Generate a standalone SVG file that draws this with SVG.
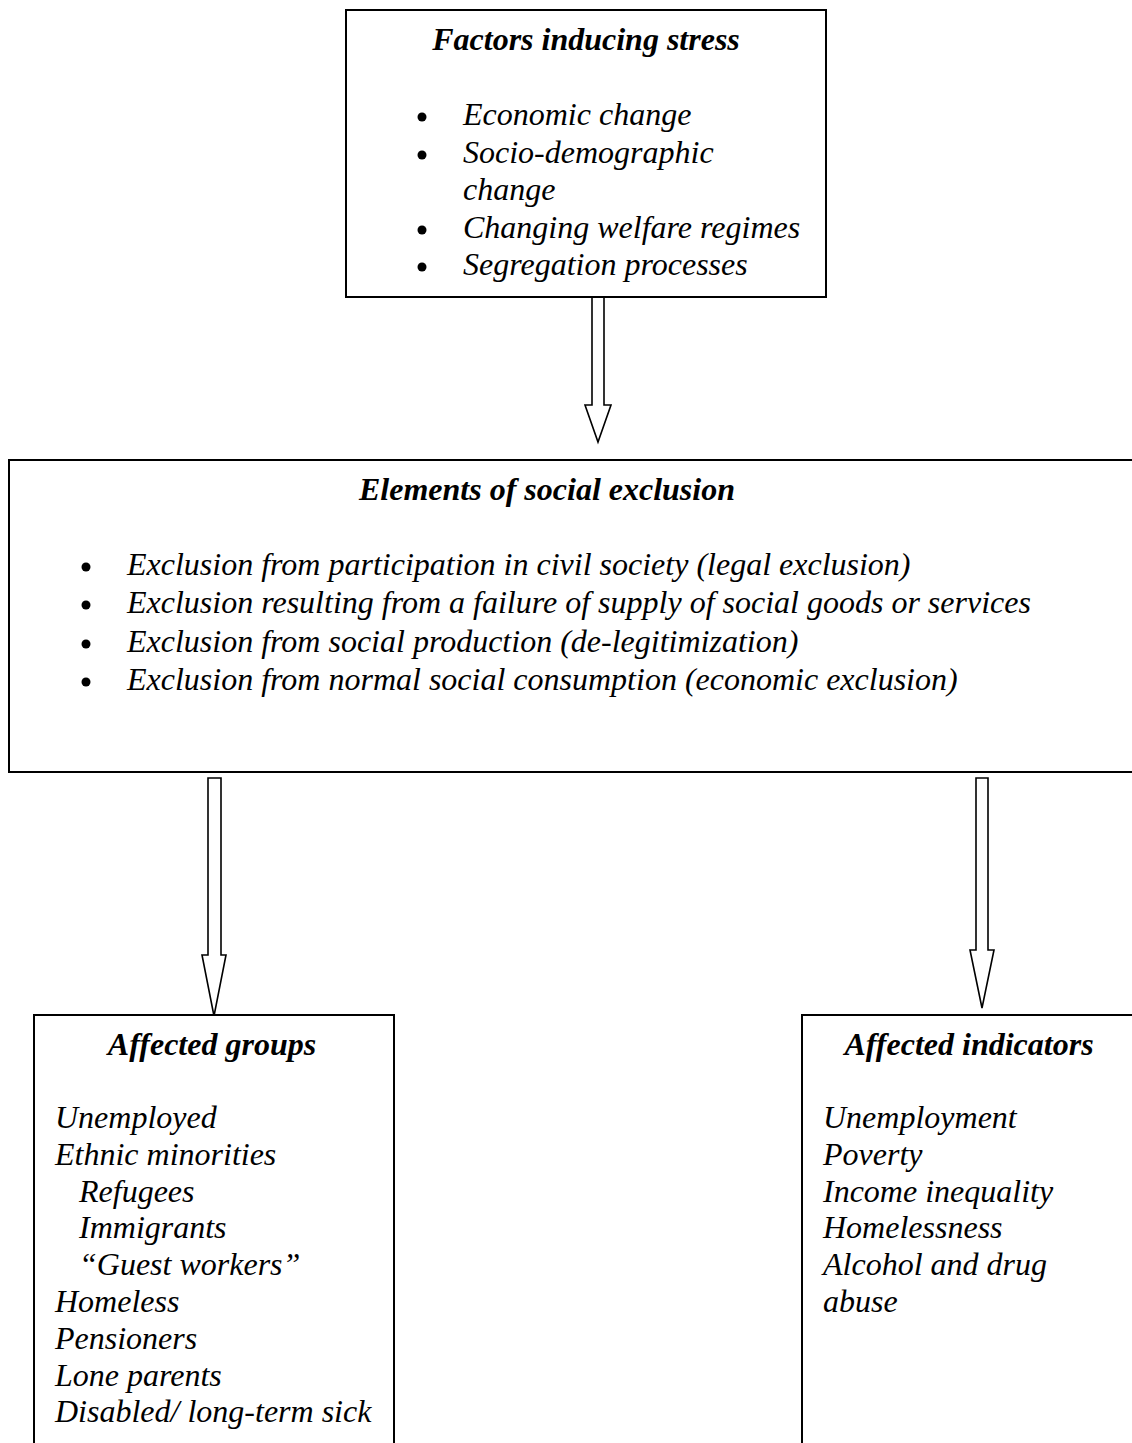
<svg xmlns="http://www.w3.org/2000/svg" width="1132" height="1443" viewBox="0 0 1132 1443">
<style>
.box{fill:#fff;stroke:#000;stroke-width:2}
.arrow{fill:#fff;stroke:#000;stroke-width:1.6;stroke-linejoin:miter}
text{font-family:"Liberation Serif","Times New Roman",serif;font-size:32px;font-style:italic;fill:#000}
.title{font-weight:bold;text-anchor:middle}
.dot{fill:#000}
</style>
<rect x="0" y="0" width="1132" height="1443" fill="#fff"/>
<g id="connectors">
<polygon class="arrow" points="592,297 604,297 604,405 611,405 598,442 585,405 592,405"/>
<polygon class="arrow" points="208,778 221,778 221,955 226,955 214,1016 202,955 208,955"/>
<polygon class="arrow" points="976,778 988,778 988,950 994,950 982,1008 970,950 976,950"/>
</g>
<g id="factors">
<rect class="box" x="346" y="10" width="480" height="287"/>
<text class="title" x="586" y="50">Factors inducing stress</text>
<circle class="dot" cx="422" cy="117" r="4.5"/>
<text x="463" y="125">Economic change</text>
<circle class="dot" cx="422" cy="155" r="4.5"/>
<text x="463" y="163">Socio-demographic</text>
<text x="463" y="200">change</text>
<circle class="dot" cx="422" cy="230" r="4.5"/>
<text x="463" y="238">Changing welfare regimes</text>
<circle class="dot" cx="422" cy="267" r="4.5"/>
<text x="463" y="275">Segregation processes</text>
</g>
<g id="elements">
<rect class="box" x="9" y="460" width="1140" height="312"/>
<text class="title" x="547" y="500">Elements of social exclusion</text>
<circle class="dot" cx="86" cy="567" r="4.5"/>
<text x="127" y="575">Exclusion from participation in civil society (legal exclusion)</text>
<circle class="dot" cx="86" cy="605" r="4.5"/>
<text x="127" y="613">Exclusion resulting from a failure of supply of social goods or services</text>
<circle class="dot" cx="86" cy="644" r="4.5"/>
<text x="127" y="652">Exclusion from social production (de-legitimization)</text>
<circle class="dot" cx="86" cy="682" r="4.5"/>
<text x="127" y="690">Exclusion from normal social consumption (economic exclusion)</text>
</g>
<g id="groups">
<rect class="box" x="34" y="1015" width="360" height="440"/>
<text class="title" x="212" y="1055">Affected groups</text>
<text x="55" y="1128">Unemployed</text>
<text x="55" y="1165">Ethnic minorities</text>
<text x="79" y="1202">Refugees</text>
<text x="79" y="1238">Immigrants</text>
<text x="79" y="1275">“Guest workers”</text>
<text x="55" y="1312">Homeless</text>
<text x="55" y="1349">Pensioners</text>
<text x="55" y="1386">Lone parents</text>
<text x="55" y="1422">Disabled/ long-term sick</text>
</g>
<g id="indicators">
<rect class="box" x="802" y="1015" width="360" height="440"/>
<text class="title" x="969" y="1055">Affected indicators</text>
<text x="823" y="1128">Unemployment</text>
<text x="823" y="1165">Poverty</text>
<text x="823" y="1202">Income inequality</text>
<text x="823" y="1238">Homelessness</text>
<text x="823" y="1275">Alcohol and drug</text>
<text x="823" y="1312">abuse</text>
</g>
</svg>
